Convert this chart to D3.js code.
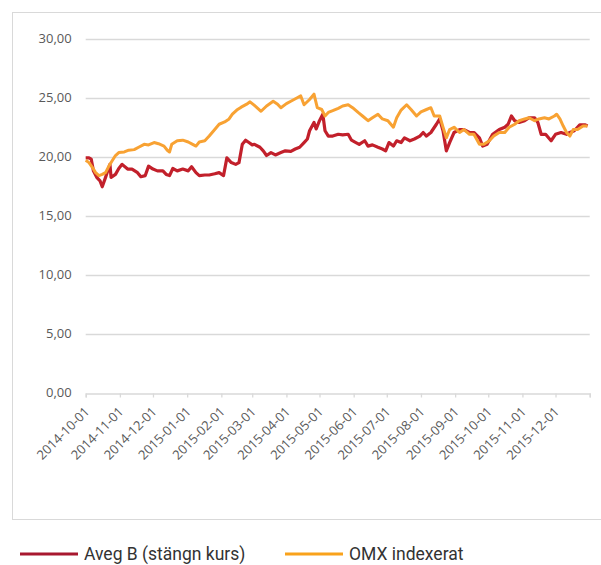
<!DOCTYPE html>
<html>
<head>
<meta charset="utf-8">
<script src="https://cdn.jsdelivr.net/npm/d3@7"></script>
<style>
  body { margin: 0; background: #fff; }
  svg { display: block; }
</style>
</head>
<body>
<div id="chart"></div>
<script>
// Aveg B closing price
const avegDates = [
  "2014-10-01","2014-10-04","2014-10-06","2014-10-08","2014-10-11","2014-10-14","2014-10-16","2014-10-19",
  "2014-10-21","2014-10-23","2014-10-24","2014-10-28","2014-10-31","2014-11-03","2014-11-08","2014-11-12",
  "2014-11-17","2014-11-20","2014-11-24","2014-11-27","2014-12-01","2014-12-05","2014-12-10","2014-12-13",
  "2014-12-16","2014-12-19","2014-12-23","2014-12-28","2015-01-02","2015-01-05","2015-01-09","2015-01-12",
  "2015-01-17","2015-01-21","2015-01-26","2015-01-30","2015-02-03","2015-02-06","2015-02-10","2015-02-14",
  "2015-02-17","2015-02-20","2015-02-23","2015-02-26","2015-03-01","2015-03-03","2015-03-08","2015-03-11",
  "2015-03-14","2015-03-18","2015-03-22","2015-03-27","2015-03-31","2015-04-05","2015-04-09","2015-04-13",
  "2015-04-17","2015-04-20","2015-04-22","2015-04-26","2015-04-28","2015-05-01","2015-05-04","2015-05-06",
  "2015-05-09","2015-05-13","2015-05-18","2015-05-22","2015-05-27","2015-05-30","2015-06-03","2015-06-06",
  "2015-06-11","2015-06-14","2015-06-18","2015-06-23","2015-06-27","2015-06-30","2015-07-03","2015-07-07",
  "2015-07-10","2015-07-14","2015-07-17","2015-07-22","2015-07-26","2015-07-31","2015-08-03","2015-08-06",
  "2015-08-10","2015-08-15","2015-08-18","2015-08-21","2015-08-24","2015-08-27","2015-08-31","2015-09-05",
  "2015-09-09","2015-09-14","2015-09-18","2015-09-23","2015-09-26","2015-09-30","2015-10-05","2015-10-11",
  "2015-10-16","2015-10-19","2015-10-22","2015-10-25","2015-10-29","2015-11-03","2015-11-07","2015-11-12",
  "2015-11-15","2015-11-18","2015-11-22","2015-11-27","2015-12-01","2015-12-06","2015-12-11","2015-12-14",
  "2015-12-18","2015-12-23","2015-12-28","2015-12-30"
];
const avegValues = [
  19.9,19.9,19.8,18.8,18.25,17.95,17.45,18.25,
  18.8,19.35,18.25,18.5,19.0,19.35,18.95,18.95,
  18.65,18.3,18.4,19.2,18.95,18.8,18.8,18.5,
  18.4,19.0,18.8,18.95,18.8,19.15,18.65,18.4,
  18.45,18.45,18.55,18.65,18.4,19.9,19.5,19.35,
  19.5,21.05,21.4,21.2,21.0,21.05,20.8,20.5,
  20.1,20.35,20.15,20.35,20.5,20.45,20.65,20.8,
  21.2,21.5,22.2,22.9,22.35,23.05,23.6,22.2,
  21.75,21.75,21.9,21.85,21.9,21.4,21.2,21.05,
  21.35,20.9,21.0,20.8,20.65,20.5,21.2,20.9,
  21.35,21.2,21.6,21.35,21.5,21.75,22.05,21.75,
  22.05,22.75,23.2,22.2,20.5,21.2,22.05,22.3,
  22.3,22.05,22.05,21.6,20.9,21.05,21.9,22.3,
  22.5,22.75,23.45,23.05,22.9,23.05,23.3,23.3,
  22.9,21.9,21.9,21.35,21.9,22.05,21.9,22.05,
  22.2,22.7,22.7,22.6
];

// OMX, indexed to the Aveg B start
const omxDates = [
  "2014-10-01","2014-10-04","2014-10-07","2014-10-10","2014-10-13","2014-10-16","2014-10-19","2014-10-22",
  "2014-10-25","2014-10-28","2014-10-31","2014-11-05","2014-11-09","2014-11-14","2014-11-18","2014-11-23",
  "2014-11-27","2014-12-02","2014-12-06","2014-12-11","2014-12-14","2014-12-16","2014-12-18","2014-12-23",
  "2014-12-28","2015-01-02","2015-01-06","2015-01-09","2015-01-12","2015-01-17","2015-01-21","2015-01-26",
  "2015-01-30","2015-02-04","2015-02-08","2015-02-11","2015-02-15","2015-02-19","2015-02-24","2015-02-27",
  "2015-03-03","2015-03-09","2015-03-14","2015-03-20","2015-03-24","2015-03-27","2015-04-01","2015-04-05",
  "2015-04-10","2015-04-14","2015-04-17","2015-04-22","2015-04-26","2015-04-29","2015-05-03","2015-05-06",
  "2015-05-09","2015-05-13","2015-05-18","2015-05-22","2015-05-27","2015-05-31","2015-06-05","2015-06-09",
  "2015-06-14","2015-06-18","2015-06-23","2015-06-27","2015-07-02","2015-07-07","2015-07-10","2015-07-14",
  "2015-07-19","2015-07-23","2015-07-28","2015-08-01","2015-08-06","2015-08-10","2015-08-13","2015-08-18",
  "2015-08-21","2015-08-24","2015-08-27","2015-08-31","2015-09-05","2015-09-09","2015-09-14","2015-09-18",
  "2015-09-23","2015-09-27","2015-10-02","2015-10-06","2015-10-11","2015-10-16","2015-10-20","2015-10-25",
  "2015-10-29","2015-11-03","2015-11-07","2015-11-12","2015-11-16","2015-11-21","2015-11-25","2015-11-30",
  "2015-12-02","2015-12-05","2015-12-08","2015-12-11","2015-12-14","2015-12-17","2015-12-21","2015-12-26",
  "2015-12-30"
];
const omxValues = [
  19.7,19.5,19.1,18.65,18.4,18.5,18.65,19.2,
  19.65,20.1,20.35,20.4,20.55,20.6,20.8,21.05,
  21.0,21.2,21.1,20.9,20.55,20.4,21.05,21.35,
  21.4,21.25,21.05,20.9,21.25,21.35,21.75,22.3,
  22.75,22.95,23.2,23.6,23.95,24.2,24.45,24.65,
  24.35,23.85,24.3,24.7,24.45,24.15,24.5,24.7,
  24.95,25.15,24.4,24.85,25.3,24.15,24.0,23.45,
  23.75,23.9,24.1,24.3,24.4,24.15,23.75,23.45,
  23.05,23.3,23.6,23.2,23.05,22.5,23.3,23.95,
  24.4,24.0,23.45,23.8,24.0,24.15,23.45,23.45,
  22.5,21.6,22.3,22.5,22.05,22.3,21.9,21.9,
  21.05,21.05,21.35,21.75,22.05,22.05,22.5,22.75,
  23.05,23.2,23.3,23.05,23.2,23.3,23.2,23.45,
  23.6,23.2,22.6,22.05,21.75,22.3,22.3,22.6,
  22.6
];

const yTicks = [0, 5, 10, 15, 20, 25, 30];
const seriesNames = ["Aveg B (stängn kurs)", "OMX indexerat"];

const width = 601, height = 565;
const parseTime = d3.timeParse("%Y-%m-%d");
const fmtTick = d3.timeFormat("%Y-%m-%d");
const fmtY = d3.format(".2f");

const svg = d3.select("#chart")
    .append("svg")
    .attr("width", width)
    .attr("height", height);

// outer frame of the chart area
svg.append("rect")
    .attr("x", 12.5)
    .attr("y", 12.5)
    .attr("width", 600)
    .attr("height", 507)
    .attr("fill", "none")
    .attr("stroke", "#d9d9d9");

let x = d3.scaleTime()
    .domain([parseTime("2014-10-01"), parseTime("2016-01-01")])
    .range([85.7, 589.7]);

let y = d3.scaleLinear()
    .domain([0, 30])
    .range([392.7, 38.7]);

// gridlines
svg.append("g")
    .selectAll("line")
    .data(yTicks.filter(d => d > 0))
    .join("line")
    .attr("x1", x.range()[0])
    .attr("x2", x.range()[1])
    .attr("y1", d => Math.round(y(d)) + 0.5)
    .attr("y2", d => Math.round(y(d)) + 0.5)
    .attr("stroke", "#d9d9d9")
    .attr("stroke-width", 1.3);

// y labels
let yAxis = svg.append("g")
    .attr("transform", "translate(" + x.range()[0] + ",0)")
    .call(d3.axisLeft(y).tickValues(yTicks).tickSize(0).tickPadding(14)
        .tickFormat(d => fmtY(d).replace(".", ",")));
yAxis.select(".domain").remove();
yAxis.selectAll("text")
    .attr("font-family", "Open Sans")
    .attr("font-size", 13)
    .attr("fill", "#595959");

// x axis
const months = d3.timeMonth.range(parseTime("2014-10-01"), parseTime("2016-01-02"));
let xAxis = svg.append("g")
    .attr("transform", "translate(0," + (Math.round(y(0)) + 0.5) + ")")
    .call(d3.axisBottom(x).tickValues(months).tickSizeOuter(0).tickSize(4)
        .tickFormat((d, i) => i < months.length - 1 ? fmtTick(d) : ""));
xAxis.select(".domain").attr("stroke", "#d9d9d9").attr("stroke-width", 1.3);
xAxis.selectAll(".tick line").attr("stroke", "#d9d9d9").attr("stroke-width", 1.3);
xAxis.selectAll("text")
    .attr("font-family", "Open Sans")
    .attr("font-size", 13)
    .attr("fill", "#595959")
    .attr("text-anchor", "end")
    .attr("x", 0)
    .attr("y", 0)
    .attr("dy", 0)
    .attr("transform", "translate(4,19) rotate(-45)");

// lines
const line = d3.line()
    .x(d => x(d.date))
    .y(d => y(d.value));

const aveg = avegDates.map((d, i) => ({ date: parseTime(d), value: avegValues[i] }));
const omx = omxDates.map((d, i) => ({ date: parseTime(d), value: omxValues[i] }));

svg.append("path")
    .datum(aveg)
    .attr("fill", "none")
    .attr("stroke", "#c2202b")
    .attr("stroke-width", 3.2)
    .attr("stroke-linejoin", "round")
    .attr("d", line);

svg.append("path")
    .datum(omx)
    .attr("fill", "none")
    .attr("stroke", "#f8a233")
    .attr("stroke-width", 3)
    .attr("stroke-linejoin", "round")
    .attr("d", line);

// legend
const legendX = [20, 285];
const legendColors = ["#a8182f", "#f9a21b"];
let legend = svg.append("g")
    .selectAll("g")
    .data(seriesNames)
    .join("g")
    .attr("transform", (d, i) => "translate(" + legendX[i] + ",554)");
legend.append("line")
    .attr("x1", 0)
    .attr("x2", 58)
    .attr("stroke", (d, i) => legendColors[i])
    .attr("stroke-width", 3);
legend.append("text")
    .attr("x", 64)
    .attr("y", 6)
    .attr("font-family", "Roboto")
    .attr("font-size", 17.5)
    .attr("fill", "#333")
    .text(d => d);
</script>
</body>
</html>
